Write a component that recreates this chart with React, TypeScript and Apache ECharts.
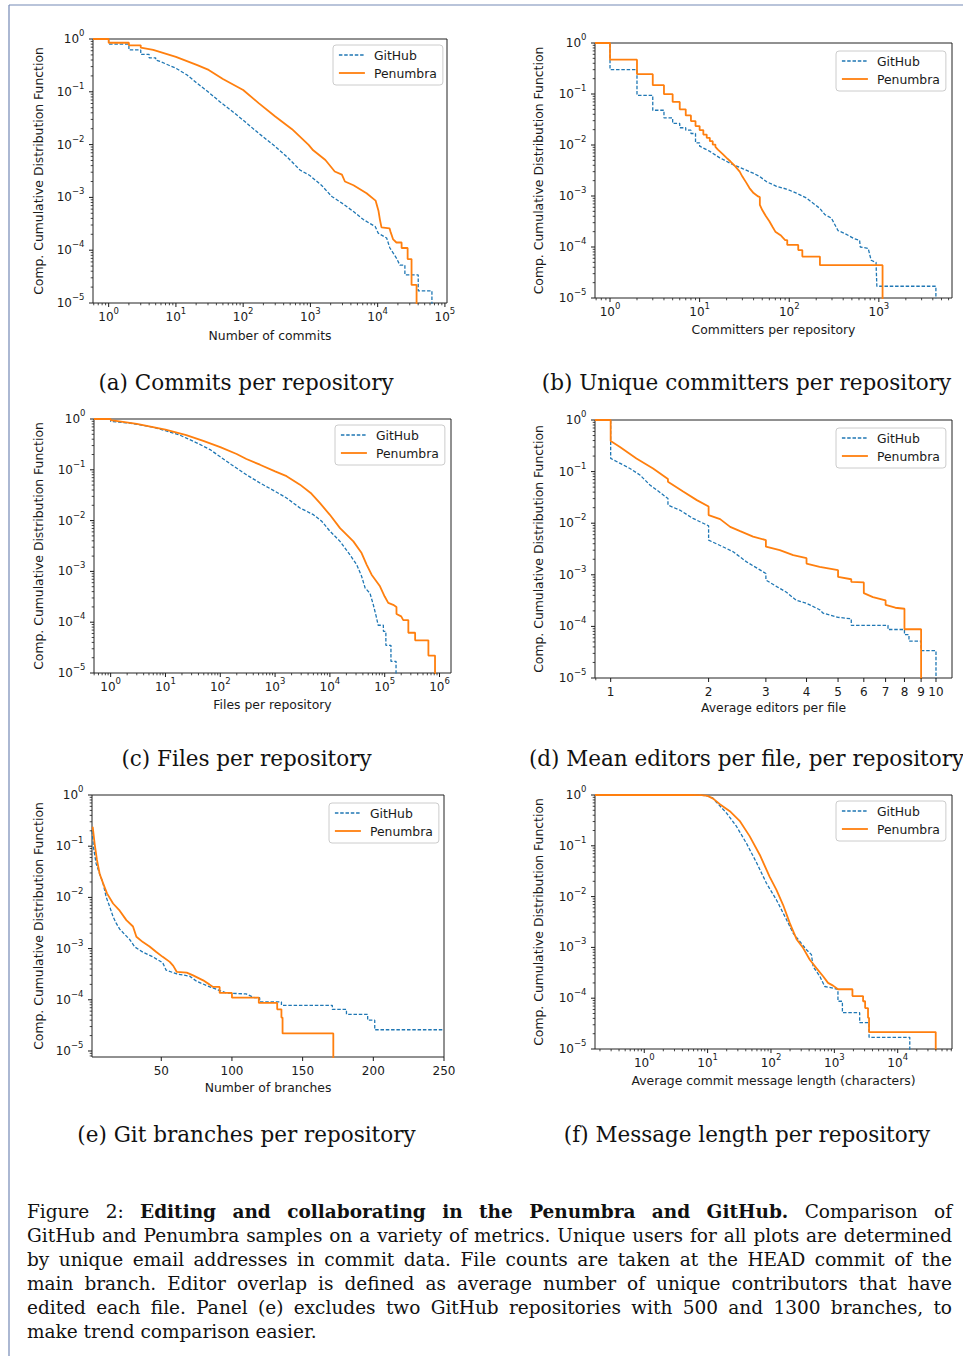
import React, { useEffect, useRef } from 'react';
import * as echarts from 'echarts';

// ---------------- data ----------------
const SERIES_NAMES = ['GitHub', 'Penumbra'];

const commitsGitHub = [[0.585,1],[1,1],[1,0.8],[2,0.8],[2,0.62],[3,0.62],[3,0.51],[4,0.51],[4,0.44],[5,0.44],[5,0.4],[6,0.37],[7,0.34],[8,0.315],[10,0.28],[14.5,0.21],[20,0.15],[30,0.1],[45,0.065],[70,0.042],[100,0.029],[170,0.0164],[300,0.0092],[445,0.0059],[700,0.0033],[980,0.0026],[1460,0.0017],[2080,0.00104],[2940,0.00078],[4370,0.00054],[6130,0.00038],[9200,0.00028],[10200,0.00021],[13600,0.00017],[15200,0.00011],[19000,0.000071],[21400,0.000052],[25400,0.000052],[25400,0.000034],[40100,0.000034],[40100,0.000017],[64100,0.000017],[64100,1e-7]];
const commitsPenumbra = [[0.585,1],[1,1],[1,0.85],[2,0.85],[2,0.76],[3,0.76],[3,0.69],[4.6,0.62],[10,0.46],[20.8,0.32],[30.7,0.26],[50,0.175],[100,0.108],[170,0.061],[300,0.034],[533,0.0196],[940,0.0099],[1100,0.0078],[1670,0.0051],[2300,0.0031],[2940,0.0027],[3260,0.002],[4370,0.0017],[6840,0.0012],[9310,0.00087],[10300,0.00055],[10800,0.00038],[11400,0.00027],[15000,0.00026],[15600,0.00022],[17000,0.00016],[19000,0.00014],[22700,0.00014],[22700,0.00011],[27900,0.00011],[27900,0.000068],[31900,0.000068],[31900,0.000022],[37900,0.000022],[37900,1e-7]];

const committersGitHub = [[0.68,1],[1,1],[1,0.3],[2,0.3],[2,0.094],[3,0.094],[3,0.048],[4,0.048],[4,0.034],[5,0.034],[5,0.0265],[6,0.0265],[6,0.0218],[7,0.0218],[7,0.0195],[8,0.0195],[8,0.0168],[9,0.0168],[9,0.011],[10,0.011],[10,0.0095],[13,0.0075],[16.8,0.0056],[23.7,0.0041],[30.6,0.0034],[39.6,0.0028],[47,0.0024],[56,0.0019],[72,0.00155],[93,0.00137],[120,0.00114],[156,0.00091],[185,0.00072],[220,0.00057],[250,0.00043],[295,0.00037],[350,0.00021],[415,0.000185],[520,0.000148],[610,0.000135],[620,0.0001],[760,0.000094],[820,0.000055],[930,0.00005],[950,0.000017],[4330,0.000017],[4330,1e-7]];
const committersPenumbra = [[0.68,1],[1,1],[1,0.47],[2,0.47],[2,0.245],[3,0.245],[3,0.149],[4,0.149],[4,0.099],[5,0.099],[5,0.07],[6,0.07],[6,0.05],[7,0.05],[7,0.038],[8,0.038],[8,0.0295],[9,0.0295],[9,0.0235],[10,0.0235],[10,0.0196],[11,0.0196],[11,0.016],[12,0.016],[12,0.0138],[13,0.0138],[13,0.0119],[14,0.0119],[14,0.0102],[15,0.0102],[15,0.0092],[16,0.0081],[18,0.0067],[20,0.0056],[22,0.0048],[25,0.0038],[28,0.003],[30,0.0024],[33,0.00185],[36,0.00143],[40,0.00114],[45,0.00098],[47,0.00095],[47,0.00067],[50,0.00053],[55,0.0004],[60,0.00032],[65,0.00025],[70,0.0002],[80,0.00017],[90,0.000137],[95,0.000137],[95,0.00011],[126,0.00011],[126,0.000087],[140,0.000087],[140,0.000065],[220,0.000065],[220,0.000044],[1100,0.000044],[1100,1e-7]];

const filesGitHub = [[0.497,1],[1,1],[1,0.9],[2.25,0.83],[6,0.69],[10,0.59],[18.4,0.48],[37,0.34],[65,0.25],[100,0.18],[160,0.126],[300,0.08],[530,0.055],[1000,0.0377],[1620,0.0279],[2850,0.0177],[5000,0.0131],[7100,0.0097],[10000,0.0062],[15300,0.0039],[23400,0.0021],[30900,0.00135],[37900,0.0008],[44000,0.00047],[53900,0.00037],[62000,0.00022],[70000,0.00013],[76000,0.000087],[94600,0.000087],[94600,0.000066],[105000,0.000066],[105000,0.000035],[130000,0.000035],[130000,0.000017],[161000,0.000017],[161000,1e-7]];
const filesPenumbra = [[0.497,1],[1,1],[1,0.955],[3,0.8],[10,0.62],[24,0.48],[49,0.37],[100,0.28],[199,0.205],[300,0.163],[530,0.126],[1000,0.093],[1620,0.075],[2850,0.051],[4460,0.035],[6600,0.022],[10000,0.013],[15300,0.0071],[26800,0.0039],[37900,0.0023],[47000,0.00135],[57700,0.00086],[82000,0.00051],[100000,0.00032],[116000,0.00024],[143000,0.00022],[164000,0.0002],[164000,0.000145],[200000,0.00013],[218000,0.00011],[270000,0.00011],[270000,0.000062],[359000,0.000062],[359000,0.000044],[627000,0.000044],[627000,0.000022],[828000,0.000022],[828000,1e-7]];

const editorsGitHub = [[0.895,1],[1,1],[1,0.18],[1.07,0.144],[1.146,0.115],[1.23,0.086],[1.32,0.055],[1.418,0.0395],[1.5,0.03],[1.5,0.0224],[1.63,0.018],[1.79,0.0124],[2,0.0089],[2,0.0047],[2.17,0.0037],[2.38,0.0028],[2.61,0.0018],[2.81,0.00136],[3,0.00106],[3,0.00079],[3.24,0.00059],[3.47,0.00046],[3.72,0.00032],[4,0.00028],[4.39,0.00021],[4.5,0.00018],[5,0.00015],[5.49,0.00014],[5.49,0.000105],[7.12,0.000105],[7.12,0.000087],[8,0.000087],[8,0.000069],[8.26,0.000069],[8.26,0.000052],[9,0.000052],[9,0.000034],[10,0.000034],[10,1e-7]];
const editorsPenumbra = [[0.895,1],[1,1],[1,0.39],[1.068,0.3],[1.2,0.18],[1.35,0.115],[1.5,0.0716],[1.5,0.0636],[1.67,0.041],[1.84,0.028],[2,0.021],[2,0.0144],[2.17,0.012],[2.33,0.0085],[2.5,0.007],[2.74,0.0055],[3,0.0047],[3,0.0035],[3.31,0.003],[3.64,0.0024],[4,0.0021],[4,0.00165],[4.39,0.00143],[5,0.00123],[5,0.00091],[5.49,0.00082],[5.49,0.00073],[6,0.00071],[6,0.00044],[6.4,0.00037],[7,0.00032],[7,0.00026],[7.5,0.00023],[8,0.00022],[8,0.000088],[9,0.000088],[9,1e-7]];

const branchesGitHub = [[1,0.2],[2,0.098],[3.9,0.046],[6.4,0.029],[8.8,0.019],[11.1,0.01],[13.5,0.0066],[15.9,0.0042],[18.2,0.0031],[20.6,0.0024],[24.1,0.0019],[27.7,0.0015],[31.2,0.00108],[37,0.00085],[44,0.00069],[51,0.00053],[53.4,0.00038],[61,0.00032],[70,0.00029],[75,0.00023],[82,0.00019],[89,0.00016],[96,0.000136],[110,0.00013],[116,0.00011],[119.6,0.00011],[119.6,0.000091],[135,0.000091],[135,0.000078],[171,0.000078],[171,0.000065],[181,0.000065],[181,0.000052],[196,0.000052],[196,0.00004],[201,0.00004],[201,0.000026],[250,0.000026]];
const branchesPenumbra = [[1.5,0.24],[2.9,0.11],[4.5,0.054],[6.4,0.029],[8.8,0.019],[11.6,0.012],[15.9,0.0076],[20.6,0.0055],[25.3,0.0036],[30,0.0027],[32.4,0.0017],[37,0.00134],[41.7,0.0011],[46.5,0.00086],[51,0.00069],[56,0.00055],[58.5,0.00046],[61,0.00035],[68,0.00034],[72.5,0.0003],[79.6,0.00024],[84,0.0002],[86.6,0.000178],[91.3,0.000178],[91.3,0.000136],[100,0.000136],[100,0.00011],[119,0.00011],[119,0.000087],[132,0.000087],[132,0.000065],[135,0.000065],[135,0.000045],[135.8,0.000045],[135.8,0.000022],[171.7,0.000022],[171.7,1e-7]];

const messageGitHub = [[0.167,1],[5,1],[8,0.99],[10,0.96],[12,0.88],[13.8,0.72],[19.9,0.44],[28.6,0.24],[41,0.112],[59,0.047],[84.8,0.0183],[122,0.0086],[176,0.0035],[224,0.0019],[285,0.00131],[363,0.0009],[435,0.00072],[462,0.00042],[590,0.00027],[706,0.00017],[1140,0.00015],[1140,0.000087],[1340,0.000087],[1340,0.000052],[2510,0.000052],[2510,0.000033],[3530,0.000033],[3530,0.000017],[15500,0.000017],[15500,1e-7]];
const messagePenumbra = [[0.167,1],[5,1],[8,0.99],[10,0.96],[12.2,0.85],[15.6,0.66],[22.4,0.48],[32,0.31],[46,0.155],[66.7,0.066],[95,0.0248],[122,0.0136],[155,0.0069],[198,0.003],[253,0.00145],[322,0.00097],[410,0.00057],[521,0.00039],[664,0.00027],[795,0.0002],[955,0.000177],[1140,0.00015],[1930,0.00015],[1930,0.00011],[2840,0.00011],[2840,0.000087],[3060,0.000087],[3060,0.000064],[3400,0.000064],[3400,0.000041],[3530,0.000041],[3530,0.0000215],[39800,0.0000215],[39800,1e-7]];

// tick values / labels
const Y_MAJOR = [1, 0.1, 0.01, 0.001, 0.0001, 0.00001];
const X_MAJOR_A = [1, 10, 100, 1000, 10000, 100000];
const X_MAJOR_B = [1, 10, 100, 1000];
const X_MAJOR_C = [1, 10, 100, 1000, 10000, 100000, 1000000];
const X_MAJOR_D = [1, 2, 3, 4, 5, 6, 7, 8, 9, 10];
const X_MAJOR_E = [50, 100, 150, 200, 250];
const X_MAJOR_F = [1, 10, 100, 1000, 10000];

const Y_NAME = 'Comp. Cumulative Distribution Function';
const X_NAMES = ['Number of commits', 'Committers per repository', 'Files per repository', 'Average editors per file', 'Number of branches', 'Average commit message length (characters)'];
const SUBCAPTIONS = ['(a) Commits per repository', '(b) Unique committers per repository', '(c) Files per repository', '(d) Mean editors per file, per repository', '(e) Git branches per repository', '(f) Message length per repository'];

const CAPTION_LINES = [
  [['Figure 2:', false], ['Editing and collaborating in the Penumbra and GitHub.', true], ['Comparison of', false]],
  [['GitHub and Penumbra samples on a variety of metrics. Unique users for all plots are determined', false]],
  [['by unique email addresses in commit data. File counts are taken at the HEAD commit of the', false]],
  [['main branch. Editor overlap is defined as average number of unique contributors that have', false]],
  [['edited each file. Panel (e) excludes two GitHub repositories with 500 and 1300 branches, to', false]],
  [['make trend comparison easier.', false]],
];

// ---------------- layout / style ----------------
const INK = '#1a1a1a';
const SANS = 'DejaVu Sans';
const SERIF = 'DejaVu Serif';
const BLUE = '#1f77b4';
const ORANGE = '#ff7f0e';
const GH_STYLE = { color: BLUE, width: 1.3, type: [3.5, 1.8] };
const PB_STYLE = { color: ORANGE, width: 1.8, type: 'solid' };
const LABEL_SIZE = 12.4;

const PANELS = [
  { grid: { left: 93, top: 39, width: 354, height: 264 }, xType: 'log', xMin: 0.585, xMax: 107400, yMin: 1e-5, xMajor: X_MAJOR_A, xFmt: 'pow', xMinor: true, gh: commitsGitHub, pb: commitsPenumbra, xNameGap: 26, yNameGap: 48.5, legend: [333, 45], sub: [246, 382] },
  { grid: { left: 595, top: 43, width: 357, height: 255 }, xType: 'log', xMin: 0.68, xMax: 6550, yMin: 1e-5, xMajor: X_MAJOR_B, xFmt: 'pow', xMinor: true, gh: committersGitHub, pb: committersPenumbra, xNameGap: 25, yNameGap: 51, legend: [836, 51], sub: [746.5, 382] },
  { grid: { left: 94, top: 419, width: 357, height: 254 }, xType: 'log', xMin: 0.497, xMax: 1620000, yMin: 1e-5, xMajor: X_MAJOR_C, xFmt: 'pow', xMinor: true, gh: filesGitHub, pb: filesPenumbra, xNameGap: 25.5, yNameGap: 49.5, legend: [335, 425], sub: [246.5, 758] },
  { grid: { left: 595, top: 420, width: 357, height: 258 }, xType: 'log', xMin: 0.895, xMax: 11.2, yMin: 1e-5, xMajor: X_MAJOR_D, xFmt: 'plain', xMinor: true, gh: editorsGitHub, pb: editorsPenumbra, xNameGap: 23.5, yNameGap: 51, legend: [836, 428], sub: [746.5, 758] },
  { grid: { left: 92, top: 795, width: 352, height: 262 }, xType: 'value', xMin: 1, xMax: 250, yMin: 7.63e-6, xMajor: X_MAJOR_E, xFmt: 'plain', xMinor: false, gh: branchesGitHub, pb: branchesPenumbra, xNameGap: 24.5, yNameGap: 48, legend: [329, 803], sub: [246.5, 1134] },
  { grid: { left: 595, top: 795, width: 357, height: 254 }, xType: 'log', xMin: 0.167, xMax: 71900, yMin: 1e-5, xMajor: X_MAJOR_F, xFmt: 'pow', xMinor: true, gh: messageGitHub, pb: messagePenumbra, xNameGap: 25.5, yNameGap: 51, legend: [836, 801], sub: [747, 1134] },
];

const TICK_RICH = {
  n: { fontSize: 12, lineHeight: 20, fontFamily: SANS, fill: INK },
  s: { fontSize: 8.5, lineHeight: 8, height: 8, verticalAlign: 'top', fontFamily: SANS, fill: INK },
};

function fmtTick(v: number, kind: string) {
  if (kind === 'pow') {
    const e = Math.round(Math.log10(v));
    return '{n|10}{s|' + (e < 0 ? '\u2212' + -e : String(e)) + '}';
  }
  return '{n|' + v + '}';
}

function logMinors(min: number, max: number, exclude: number[]) {
  const out: number[] = [];
  for (let k = -7; k <= 7; k++) {
    for (let m = 2; m <= 9; m++) {
      const v = Number((m * Math.pow(10, k)).toPrecision(6));
      if (v > min && v < max && exclude.indexOf(v) < 0) out.push(v);
    }
  }
  return out;
}

function xTickSeries(i: number, p: any) {
  const yd = p.yMin * 3;
  const data: number[][] = p.xMajor.map((v: number) => [v, yd, 1]);
  if (p.xMinor) logMinors(p.xMin, p.xMax, p.xMajor).forEach((v) => data.push([v, yd, 0]));
  return {
    type: 'custom', xAxisIndex: i, yAxisIndex: i, silent: true, clip: false, z: 10, data,
    renderItem: (params: any, api: any) => {
      const v = api.value(0);
      const major = api.value(2) === 1;
      const cs = params.coordSys;
      const px = api.coord([v, yd])[0];
      const y0 = cs.y + cs.height;
      const children: any[] = [
        { type: 'line', shape: { x1: px, y1: y0, x2: px, y2: y0 + (major ? 4 : 2.3) }, style: { stroke: INK, lineWidth: major ? 1 : 0.8 } },
      ];
      if (major) {
        children.push({ type: 'text', x: px, y: y0 + 14, style: { text: fmtTick(v, p.xFmt), rich: TICK_RICH, align: 'center', verticalAlign: 'middle', fill: INK, fontSize: 12, fontFamily: SANS } });
      }
      return { type: 'group', children };
    },
  };
}

function yTickSeries(i: number, p: any) {
  const xd = p.xMin * 1.5;
  const data: number[][] = Y_MAJOR.filter((v) => v >= p.yMin).map((v) => [xd, v, 1]);
  logMinors(p.yMin, 1, Y_MAJOR).forEach((v) => data.push([xd, v, 0]));
  return {
    type: 'custom', xAxisIndex: i, yAxisIndex: i, silent: true, clip: false, z: 10, data,
    renderItem: (params: any, api: any) => {
      const v = api.value(1);
      const major = api.value(2) === 1;
      const cs = params.coordSys;
      const py = api.coord([xd, v])[1];
      const x0 = cs.x;
      const children: any[] = [
        { type: 'line', shape: { x1: x0, y1: py, x2: x0 - (major ? 4 : 2.3), y2: py }, style: { stroke: INK, lineWidth: major ? 1 : 0.8 } },
      ];
      if (major) {
        children.push({ type: 'text', x: x0 - 8.5, y: py, style: { text: fmtTick(v, 'pow'), rich: TICK_RICH, align: 'right', verticalAlign: 'middle', fill: INK, fontSize: 12, fontFamily: SANS } });
      }
      return { type: 'group', children };
    },
  };
}

function buildCaption() {
  const X0 = 27, W = 925, Y0 = 1211, DY = 24;
  const canvas = document.createElement('canvas');
  const ctx = canvas.getContext('2d') as CanvasRenderingContext2D;
  const mw = (t: string, bold: boolean, s: number) => {
    ctx.font = (bold ? 'bold ' : 'normal ') + s + 'px ' + SERIF;
    return ctx.measureText(t).width;
  };
  const lines = CAPTION_LINES.map((segs) => {
    const words: { t: string; b: boolean }[] = [];
    segs.forEach(([txt, b]) => (txt as string).split(' ').forEach((w) => words.push({ t: w, b: b as boolean })));
    return words;
  });
  let maxNat = 0;
  lines.forEach((ws, li) => {
    if (li === lines.length - 1) return;
    const w = ws.reduce((a, w) => a + mw(w.t, w.b, 10), 0) + (ws.length - 1) * mw(' ', false, 10);
    maxNat = Math.max(maxNat, w);
  });
  const S = Math.min(18.5, (10 * W * 0.985) / maxNat);
  return lines.map((ws, li) => {
    const last = li === lines.length - 1;
    const sum = ws.reduce((a, w) => a + mw(w.t, w.b, S), 0);
    const gap = last ? mw(' ', false, S) : (W - sum) / (ws.length - 1);
    const text = ws.map((w) => '{' + (w.b ? 'b' : 'r') + '|' + w.t + '}').join('{g| }');
    return {
      type: 'text', x: X0, y: Y0 + li * DY, silent: true,
      style: {
        text, align: 'left', verticalAlign: 'middle', fill: '#111', fontSize: S, fontFamily: SERIF,
        rich: {
          r: { fontSize: S, fontFamily: SERIF, fontWeight: 'normal', fill: '#111' },
          b: { fontSize: S, fontFamily: SERIF, fontWeight: 'bold', fill: '#111' },
          g: { fontSize: S, fontFamily: SERIF, width: gap, fill: '#111' },
        },
      },
    };
  });
}

function buildOption() {
  const grid: any[] = [];
  const xAxis: any[] = [];
  const yAxis: any[] = [];
  const series: any[] = [];
  const legend: any[] = [];
  const elements: any[] = [];
  const nameStyle = { fontSize: LABEL_SIZE, fontFamily: SANS, color: INK };

  PANELS.forEach((p, i) => {
    grid.push({ ...p.grid, show: true, borderColor: '#222', borderWidth: 1, backgroundColor: 'transparent', containLabel: false, outerBoundsMode: 'none' });
    xAxis.push({
      gridIndex: i, type: p.xType, logBase: 10, min: p.xMin, max: p.xMax,
      axisLine: { show: false }, axisTick: { show: false }, axisLabel: { show: false }, splitLine: { show: false }, minorTick: { show: false },
      name: X_NAMES[i], nameLocation: 'middle', nameGap: p.xNameGap, nameTextStyle: nameStyle,
    });
    yAxis.push({
      gridIndex: i, type: 'log', logBase: 10, min: p.yMin, max: 1,
      axisLine: { show: false }, axisTick: { show: false }, axisLabel: { show: false }, splitLine: { show: false }, minorTick: { show: false },
      name: Y_NAME, nameLocation: 'middle', nameGap: p.yNameGap, nameTextStyle: nameStyle,
    });
    series.push({
      type: 'line', name: SERIES_NAMES[0], xAxisIndex: i, yAxisIndex: i, data: p.gh, showSymbol: false, symbol: 'none',
      lineStyle: GH_STYLE, itemStyle: { color: BLUE }, silent: true, z: 3, emphasis: { disabled: true },
    });
    series.push({
      type: 'line', name: SERIES_NAMES[1], xAxisIndex: i, yAxisIndex: i, data: p.pb, showSymbol: false, symbol: 'none',
      lineStyle: PB_STYLE, itemStyle: { color: ORANGE }, silent: true, z: 4, emphasis: { disabled: true },
    });
    series.push(xTickSeries(i, p));
    series.push(yTickSeries(i, p));
    legend.push({
      left: p.legend[0], top: p.legend[1], orient: 'vertical', itemWidth: 26, itemHeight: 12, itemGap: 6,
      padding: [4, 6, 6, 5], backgroundColor: 'rgba(255,255,255,0.8)', borderColor: '#cccccc', borderWidth: 1, borderRadius: 3,
      selectedMode: false, itemStyle: { color: 'transparent', borderColor: 'transparent', borderWidth: 0, opacity: 0 },
      textStyle: { fontSize: LABEL_SIZE, fontFamily: SANS, color: INK, padding: [0, 0, 0, 4] },
      data: [
        { name: SERIES_NAMES[0], lineStyle: { ...GH_STYLE, opacity: 1 } },
        { name: SERIES_NAMES[1], lineStyle: { ...PB_STYLE, opacity: 1 } },
      ],
    });
    elements.push({
      type: 'text', x: p.sub[0], y: p.sub[1], silent: true,
      style: { text: SUBCAPTIONS[i], fill: '#111', fontSize: 21.5, fontFamily: SERIF, align: 'center', verticalAlign: 'middle' },
    });
  });

  buildCaption().forEach((e) => elements.push(e));
  elements.push({ type: 'line', silent: true, shape: { x1: 9, y1: 5, x2: 963, y2: 5 }, style: { stroke: '#7489b5', lineWidth: 1.2 } });
  elements.push({ type: 'line', silent: true, shape: { x1: 9, y1: 5, x2: 9, y2: 1356 }, style: { stroke: '#7489b5', lineWidth: 1.2 } });

  return {
    animation: false,
    backgroundColor: '#ffffff',
    textStyle: { fontFamily: SANS },
    grid, xAxis, yAxis, series, legend,
    graphic: { elements },
  };
}

export default function App() {
  const ref = useRef<HTMLDivElement>(null);
  useEffect(() => {
    if (!ref.current) return;
    const chart = echarts.init(ref.current, null, { renderer: 'svg' });
    chart.setOption(buildOption() as any);
    return () => chart.dispose();
  }, []);
  return <div ref={ref} style={{ position: 'absolute', left: 0, top: 0, width: 963, height: 1356, background: '#fff' }} />;
}
